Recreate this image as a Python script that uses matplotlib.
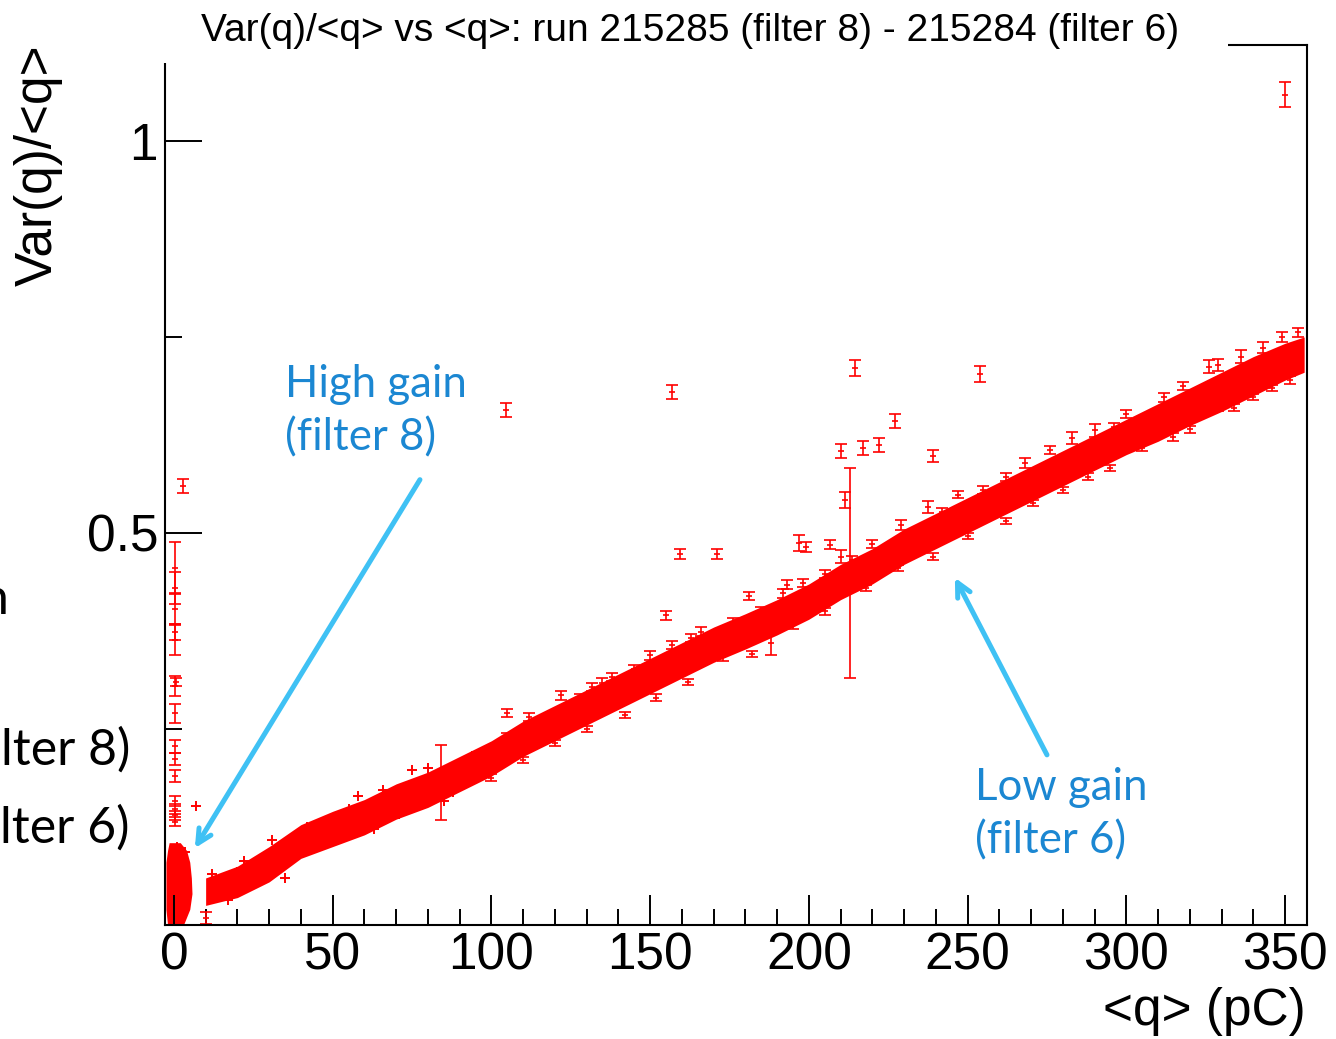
import matplotlib
matplotlib.use("Agg")
import matplotlib.pyplot as plt
from matplotlib.patches import Rectangle
from matplotlib.ticker import FixedLocator, MultipleLocator

# low gain band (filter 6): lower / upper edge of the dense cloud of points
band_q = [10, 20, 30, 40, 50, 60, 70, 80, 90, 100, 110, 120, 130, 140, 150, 160, 170,
          180, 190, 200, 210, 220, 230, 240, 250, 260, 270, 280, 290, 300, 310, 320,
          330, 340, 350, 356]
band_lo = [0.025, 0.035, 0.055, 0.085, 0.100, 0.115, 0.135, 0.150, 0.170, 0.190, 0.215,
           0.235, 0.255, 0.275, 0.295, 0.315, 0.335, 0.352, 0.370, 0.390, 0.415, 0.435,
           0.460, 0.480, 0.500, 0.520, 0.540, 0.560, 0.580, 0.600, 0.617, 0.637, 0.655,
           0.675, 0.695, 0.705]
band_hi = [0.060, 0.075, 0.100, 0.128, 0.145, 0.160, 0.180, 0.195, 0.215, 0.235, 0.260,
           0.280, 0.300, 0.320, 0.340, 0.360, 0.380, 0.397, 0.415, 0.435, 0.460, 0.480,
           0.505, 0.525, 0.545, 0.565, 0.585, 0.605, 0.625, 0.645, 0.665, 0.685, 0.705,
           0.725, 0.742, 0.750]

# high gain blob (filter 8) near q = 0
hg_v = [0.0, 0.02, 0.04, 0.06, 0.08, 0.095, 0.105]
hg_left = [-2.0, -2.5, -2.5, -2.5, -2.5, -2.0, -1.5]
hg_right = [3.0, 5.0, 5.7, 5.5, 5.0, 4.0, 2.0]

# individual points with error bars
pt_q = [0.3, 0.3, 0.3, 0.3, 0.3, 0.3, 0.6, 0.3, 0.3, 0.3, 0.3, 0.3, 0.3, 0.3, 0.3,
        3.0, 10.0,
        350, 214.5, 254, 157, 104.5, 227, 210, 217, 222, 239, 211.5, 213, 159.4, 171,
        197, 199, 206.6, 155, 181, 188, 105, 84, 210, 213.5,
        122, 131.6, 135, 138, 150, 157, 163, 166, 193, 198, 192, 237.5, 242, 255, 283,
        290, 296, 326, 329, 336, 343, 349,
        105, 112, 128, 145, 176, 185, 205, 220, 229, 247, 262, 268, 276, 300, 312, 318, 354,
        173, 239, 340, 351.5, 329, 314.6, 305, 295, 270.5, 120, 100,
        110, 130, 142, 152, 162, 182, 195, 205, 218, 228, 250, 262, 280, 288, 320, 334, 346]
pt_v = [0.455, 0.430, 0.403, 0.374, 0.364, 0.305, 0.310, 0.270, 0.228, 0.212, 0.190,
        0.158, 0.148, 0.140, 0.132,
        0.560, 0.009,
        1.059, 0.710, 0.703, 0.680, 0.657, 0.643, 0.605, 0.608, 0.612, 0.598, 0.542,
        0.449, 0.473, 0.473, 0.487, 0.482, 0.485, 0.395, 0.420, 0.360, 0.270, 0.182,
        0.470, 0.465,
        0.293, 0.304, 0.309, 0.316, 0.344, 0.357, 0.366, 0.374, 0.434, 0.436, 0.423,
        0.533, 0.527, 0.555, 0.621, 0.631, 0.635, 0.712, 0.714, 0.725, 0.736, 0.750,
        0.240, 0.265, 0.290, 0.327, 0.386, 0.400, 0.448, 0.486, 0.510, 0.549, 0.571,
        0.589, 0.606, 0.652, 0.673, 0.688, 0.756,
        0.342, 0.470, 0.673, 0.695, 0.659, 0.622, 0.608, 0.583, 0.538, 0.232, 0.188,
        0.210, 0.250, 0.268, 0.290, 0.310, 0.346, 0.382, 0.400, 0.430, 0.455, 0.496,
        0.515, 0.555, 0.572, 0.632, 0.660, 0.685]
pt_e = [0.033, 0.020, 0.020, 0.010, 0.020, 0.013, 0.005, 0.012, 0.008, 0.008, 0.008,
        0.006, 0.006, 0.006, 0.006,
        0.009, 0.008,
        0.016, 0.010, 0.010, 0.009, 0.009, 0.009, 0.009, 0.009, 0.009, 0.008, 0.010,
        0.134, 0.006, 0.006, 0.010, 0.006, 0.006, 0.006, 0.005, 0.015, 0.005, 0.048,
        0.008, 0.006,
        0.006, 0.005, 0.006, 0.005, 0.006, 0.005, 0.005, 0.006, 0.006, 0.005, 0.006,
        0.008, 0.005, 0.005, 0.008, 0.008, 0.005, 0.008, 0.008, 0.008, 0.007, 0.006,
        0.005, 0.005, 0.005, 0.005, 0.005, 0.005, 0.005, 0.005, 0.006, 0.005, 0.005,
        0.006, 0.005, 0.005, 0.006, 0.005, 0.006,
        0.005, 0.004, 0.004, 0.005, 0.004, 0.005, 0.004, 0.004, 0.004, 0.004, 0.004,
        0.004, 0.004, 0.004, 0.004, 0.004, 0.004, 0.004, 0.004, 0.004, 0.004, 0.004,
        0.004, 0.004, 0.004, 0.004, 0.004, 0.004]

# small "+" points in the low q region
plus_q = [7, 3.5, 30, 35, 1, 13, 17, 24, 26, 38, 42, 47, 55, 63, 66, 71, 80, 88, 94,
          43, 31, 20, 52, 75, 12, 22, 58, 85]
plus_v = [0.152, 0.093, 0.068, 0.060, 0.100, 0.040, 0.032, 0.052, 0.078, 0.092, 0.125,
          0.128, 0.148, 0.122, 0.172, 0.142, 0.200, 0.170, 0.215, 0.104, 0.108, 0.068,
          0.110, 0.198, 0.065, 0.082, 0.165, 0.158]

W, H = 1336, 1039
RED = "#ff0000"
fig = plt.figure(figsize=(W / 100, H / 100), dpi=100)
ax = fig.add_axes([165 / W, 1 - 925 / H, (1307 - 165) / W, (925 - 45) / H])

ax.fill_between(band_q, band_lo, band_hi, color=RED, lw=0)
ax.fill_betweenx(hg_v, hg_left, hg_right, color=RED, lw=0)
ax.errorbar(pt_q, pt_v, yerr=pt_e, fmt="_", color=RED, ms=4, mew=1.2,
            elinewidth=1.2, capsize=4.5, capthick=1.2)
ax.plot(plus_q, plus_v, "+", color=RED, ms=7, mew=1.4)

ax.set_xlim(-2.8, 356.9)
ax.set_ylim(0, 1.1224)

ax.xaxis.set_major_locator(MultipleLocator(50))
ax.xaxis.set_minor_locator(MultipleLocator(10))
ax.yaxis.set_major_locator(FixedLocator([0, 0.5, 1.0]))
ax.yaxis.set_minor_locator(FixedLocator([0.25, 0.75]))
ax.set_yticklabels(["", "0.5", "1"])

ax.tick_params(which="both", direction="in", width=1.4, top=False, right=False,
               labelsize=37)
ax.tick_params(axis="x", which="major", length=21.5, pad=5)
ax.tick_params(axis="x", which="minor", length=11.5)
ax.tick_params(axis="y", which="major", length=26.5, pad=5)
ax.tick_params(axis="y", which="minor", length=12)
for lab in ax.get_xticklabels() + ax.get_yticklabels():
    lab.set_family("Liberation Sans")
for s in ax.spines.values():
    s.set_linewidth(1.5)

fig.text(1306 / W, 1 - 1012 / H, "<q> (pC)", ha="right", va="center",
         fontsize=37, family="Liberation Sans")
fig.text(38 / W, 1 - 44 / H, "Var(q)/<q>", ha="center", va="top", rotation=90,
         fontsize=37, family="Liberation Sans", zorder=7)

# title box covers the top of the frame
fig.add_artist(Rectangle((0, 1 - 63 / H), 1228 / W, 63 / H, transform=fig.transFigure,
                         facecolor="white", edgecolor="none", zorder=5))
fig.text(690 / W, 1 - 31 / H, "Var(q)/<q> vs <q>: run 215285 (filter 8) - 215284 (filter 6)",
         ha="center", va="center", fontsize=28, family="Liberation Sans", zorder=6)

# slide annotations
BLUE = "#1b87d2"
ARROW = "#3fc1f4"
ax.text(35, 0.716, "High gain\n(filter 8)", color=BLUE, fontsize=31.5, family="Lato",
        ha="left", va="top", linespacing=1.38)
ax.text(252.3, 0.202, "Low gain\n(filter 6)", color=BLUE, fontsize=31.5, family="Lato",
        ha="left", va="top", linespacing=1.38)
ax.annotate("", xy=(6.6, 0.098), xytext=(77.5, 0.568),
            arrowprops=dict(arrowstyle="->,head_length=1.0,head_width=0.5",
                            color=ARROW, lw=3.6, shrinkA=0, shrinkB=0))
ax.annotate("", xy=(246, 0.443), xytext=(275, 0.217),
            arrowprops=dict(arrowstyle="->,head_length=1.0,head_width=0.5",
                            color=ARROW, lw=3.6, shrinkA=0, shrinkB=0))

# pieces of slide text cut at the left edge
fig.text(130 / W, 1 - 750 / H, "lter 8)", ha="right", va="center", fontsize=36, family="Lato")
fig.text(130 / W, 1 - 828 / H, "lter 6)", ha="right", va="center", fontsize=36, family="Lato")
fig.text(8 / W, 1 - 600 / H, "n", ha="right", va="center", fontsize=36, family="Lato")

fig.savefig("out.png", dpi=100)
